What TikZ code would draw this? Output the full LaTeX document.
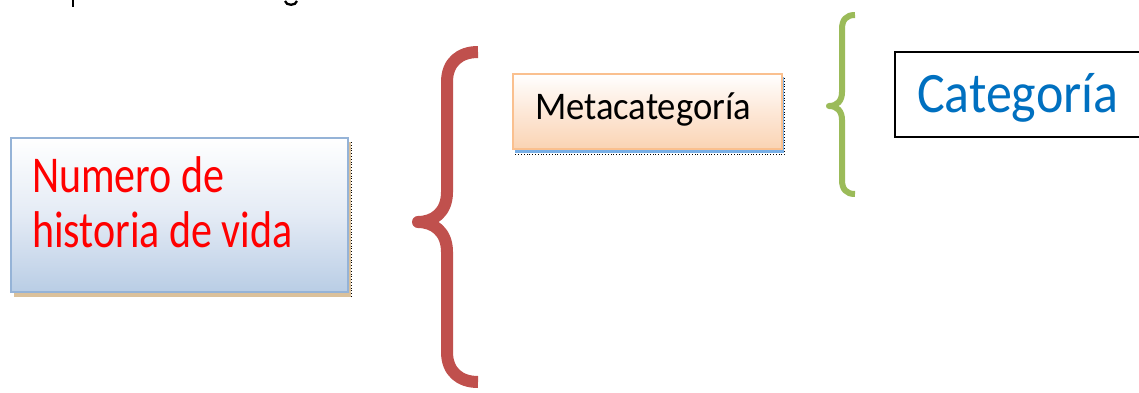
\documentclass[tikz,border=0pt]{standalone}
\usepackage{fontspec}
\setmainfont{Carlito}
\usepackage{graphicx}
\definecolor{frameblue}{RGB}{149,179,215}
\definecolor{fillblue}{RGB}{185,205,229}
\definecolor{midblue}{RGB}{228,235,245}
\definecolor{framepeach}{RGB}{250,192,143}
\definecolor{fillpeach}{RGB}{250,212,180}
\definecolor{midpeach}{RGB}{253,232,216}
\definecolor{shadowtan}{RGB}{219,193,155}
\definecolor{shadowblue}{RGB}{120,175,230}
\definecolor{textred}{RGB}{255,0,0}
\definecolor{textblue}{RGB}{0,112,192}
\definecolor{bracered}{RGB}{192,80,77}
\definecolor{bracegreen}{RGB}{155,187,89}
\begin{document}
\begin{tikzpicture}[x=1pt,y=1pt,
  boxblue/.style={draw=frameblue, line width=2.5pt,
    top color=white, bottom color=fillblue, middle color=midblue, inner sep=0pt},
  boxpeach/.style={draw=framepeach, line width=2pt,
    top color=white, bottom color=fillpeach, middle color=midpeach, inner sep=0pt},
  boxplain/.style={draw=black, line width=1.5pt, fill=white, inner sep=0pt},
  label/.style={anchor=base west, inner sep=0pt, outer sep=0pt},
  guide/.style={black, line width=0.8pt, dotted},
  bigbrace/.style={draw=bracered, line width=12pt, line cap=butt, line join=round},
  smallbrace/.style={draw=bracegreen, line width=6pt, line cap=butt, line join=round},
]
\useasboundingbox (0,0) rectangle (1139,-393);
\fill[white] (0,0) rectangle (1139,-393);

% descenders of a heading line above the frame
\draw[black, line width=2.3pt] (73,0) -- (73,-7);
\draw[black, line width=2.3pt] (285,-1) .. controls (286,-6) and (296,-6) .. (297,-1);

% left box: shadow, frame and text
\fill[shadowtan] (14,-142) rectangle (351,-297);
\node[boxblue, minimum width=337pt, minimum height=154pt] (vida) at (179.5,-215) {};
\draw[guide] (351,-142) -- (351,-298);
\node[label, text=textred] (vidatxt) at (32,-192)
  {\scalebox{1}[1.23]{\fontsize{42}{45.5}\selectfont\begin{tabular}[t]{@{}l@{}}Numero de\\historia de vida\end{tabular}}};

% middle box: shadow, frame and text
\fill[shadowblue] (515,-77) rectangle (784,-153);
\node[boxpeach, minimum width=269pt, minimum height=74.5pt] (meta) at (647,-111.25) {};
\draw[guide] (784.5,-78) -- (784.5,-154) -- (515,-154);
\node[label] (metatxt) at (535,-120)
  {\scalebox{1}[1.07]{\fontsize{36.6}{40}\selectfont Metacategoría}};

% right box
\node[boxplain, minimum width=255pt, minimum height=85pt] (cat) at (1022.5,-94.5) {};
\node[label, text=textblue] (cattxt) at (917,-112.7)
  {\scalebox{1}[1.1]{\fontsize{52}{56}\selectfont Categoría}};

% braces
\path[bigbrace] (478,-52) .. controls (460,-52) and (447,-62) .. (447,-82)
  -- (447,-192) .. controls (447,-212) and (434,-222) .. (418,-222)
  .. controls (434,-222) and (447,-232) .. (447,-252)
  -- (447,-352) .. controls (447,-372) and (460,-382) .. (478,-382);
\path[smallbrace] (855,-15) .. controls (846,-15) and (842,-20) .. (842,-29)
  -- (842,-92) .. controls (842,-101) and (837,-106) .. (829,-106)
  .. controls (837,-106) and (842,-111) .. (842,-120)
  -- (842,-180) .. controls (842,-189) and (846,-194) .. (855,-194);
\end{tikzpicture}
\end{document}
